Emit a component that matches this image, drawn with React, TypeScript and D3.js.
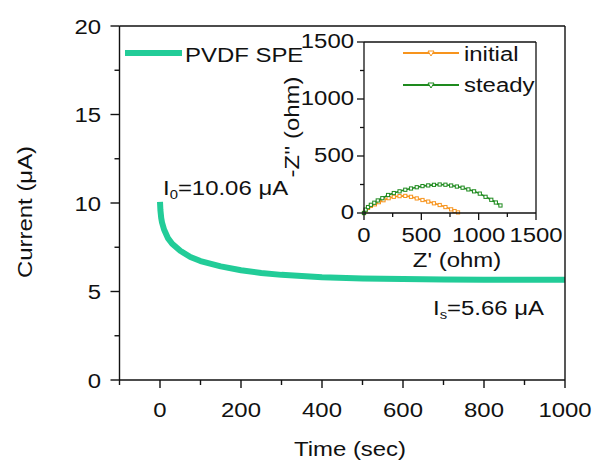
import React from "react";
import * as d3 from "d3";

// Main chart: current vs time
const timeSec = [0, 1, 3, 5, 10, 20, 30, 50, 75, 100, 150, 200, 250, 300, 350, 400, 500, 600, 700, 800, 900, 1000];
const currentUA = [10.06, 9.6, 9.15, 8.9, 8.5, 8.0, 7.7, 7.3, 6.95, 6.72, 6.42, 6.2, 6.05, 5.94, 5.87, 5.8, 5.74, 5.7, 5.68, 5.67, 5.66, 5.66];

// Inset: Nyquist plots
const initialZre = [0, 15, 35, 60, 95, 130, 170, 215, 260, 310, 360, 410, 460, 510, 560, 610, 660, 710, 760, 790, 820];
const initialZim = [0, 25, 45, 62, 76, 95, 112, 130, 142, 148, 150, 142, 128, 114, 100, 85, 70, 52, 32, 17, 5];
const steadyZre = [0, 15, 35, 60, 90, 120, 160, 210, 260, 310, 360, 410, 460, 510, 560, 610, 660, 710, 760, 810, 860, 910, 960, 1010, 1060, 1110, 1150, 1190];
const steadyZim = [0, 30, 52, 72, 90, 110, 130, 158, 175, 190, 204, 215, 226, 236, 242, 247, 250, 248, 241, 232, 222, 207, 190, 170, 142, 116, 92, 66];

const xTicksMain = [0, 200, 400, 600, 800, 1000];
const xMinorMain = [-100, 100, 300, 500, 700, 900];
const yTicksMain = [0, 5, 10, 15, 20];
const yMinorMain = [2.5, 7.5, 12.5, 17.5];
const insetTicks = [0, 500, 1000, 1500];
const insetMinor = [250, 750, 1250];

const GREEN_MAIN = "#22cc98";
const ORANGE = "#f7941d";
const GREEN_DARK = "#1e8a1e";
const FONT = "'Liberation Sans', Arial, sans-serif";
const SX = 1.14;

function T({ x, y, children, anchor = "start", size = 21, rotate = 0, fill = "#111" }: any) {
  return (
    <text
      transform={`translate(${x},${y}) rotate(${rotate}) scale(${SX},1)`}
      textAnchor={anchor}
      fontSize={size}
      fontFamily={FONT}
      fill={fill}
    >
      {children}
    </text>
  );
}

export default function App() {
  const x = d3.scaleLinear().domain([-100, 1000]).range([119.5, 565]);
  const y = d3.scaleLinear().domain([0, 20]).range([380, 26]);
  const ix = d3.scaleLinear().domain([0, 1500]).range([364, 536]);
  const iy = d3.scaleLinear().domain([0, 1500]).range([213, 42]);

  const mainData = timeSec.map((t, i) => [t, currentUA[i]] as [number, number]);
  const mainLine = d3.line<[number, number]>().x((d) => x(d[0])).y((d) => y(d[1]));

  const initData = initialZre.map((v, i) => [v, initialZim[i]] as [number, number]);
  const steadyData = steadyZre.map((v, i) => [v, steadyZim[i]] as [number, number]);
  const insetLine = d3.line<[number, number]>().x((d) => ix(d[0])).y((d) => iy(d[1]));

  const [x0, x1] = x.range();
  const [y0, y1] = y.range();
  const [ix0, ix1] = ix.range();
  const [iy0, iy1] = iy.range();

  const marker = (cx: number, cy: number, color: string, key: any) => (
    <rect key={key} x={cx - 1.6} y={cy - 1.6} width={3.2} height={3.2} fill="white" stroke={color} strokeWidth={1} />
  );

  return (
    <svg width={597} height={468} style={{ position: "absolute", left: 0, top: 0, background: "white" }}>
      <rect x={0} y={0} width={597} height={468} fill="white" />
      {/* main curve */}
      <path d={mainLine(mainData) || ""} fill="none" stroke={GREEN_MAIN} strokeWidth={6} strokeLinecap="butt" strokeLinejoin="round" />

      {/* main frame */}
      <g stroke="#111" strokeWidth={1.4} fill="none">
        <line x1={x0} y1={y0} x2={x1} y2={y0} />
        <line x1={x0} y1={y0} x2={x0} y2={y1} />
        <line x1={x0} y1={y1} x2={x1} y2={y1} />
        <line x1={x1} y1={y0} x2={x1} y2={y1} />
        {xTicksMain.map((t) => (
          <line key={"xt" + t} x1={x(t)} x2={x(t)} y1={y0} y2={y0 + 8} />
        ))}
        {xMinorMain.map((t) => (
          <line key={"xm" + t} x1={x(t)} x2={x(t)} y1={y0} y2={y0 + 5} />
        ))}
        {yTicksMain.map((t) => (
          <line key={"yt" + t} x1={x0 - 9} x2={x0} y1={y(t)} y2={y(t)} />
        ))}
        {yMinorMain.map((t) => (
          <line key={"ym" + t} x1={x0 - 5} x2={x0} y1={y(t)} y2={y(t)} />
        ))}
      </g>
      {xTicksMain.map((t) => (
        <T key={"xl" + t} x={x(t)} y={417} anchor="middle">{t}</T>
      ))}
      {yTicksMain.map((t) => (
        <T key={"yl" + t} x={101} y={y(t) + 7.5} anchor="end">{t}</T>
      ))}
      <T x={350} y={456} anchor="middle">Time (sec)</T>
      <T x={32} y={212} anchor="middle" rotate={-90}>Current (μA)</T>

      {/* main legend */}
      <line x1={125} x2={182} y1={53} y2={53} stroke={GREEN_MAIN} strokeWidth={6} />
      <T x={185} y={62}>PVDF SPE</T>

      {/* annotations */}
      <T x={163} y={195}>
        I<tspan fontSize={13} dy={4}>0</tspan>
        <tspan dy={-4}>=10.06 μA</tspan>
      </T>
      <T x={433} y={315}>
        I<tspan fontSize={13} dy={4}>s</tspan>
        <tspan dy={-4}>=5.66 μA</tspan>
      </T>

      {/* inset */}
      <path d={insetLine(initData) || ""} fill="none" stroke={ORANGE} strokeWidth={1.6} />
      {initData.map((d, i) => marker(ix(d[0]), iy(d[1]), ORANGE, "io" + i))}
      <path d={insetLine(steadyData) || ""} fill="none" stroke={GREEN_DARK} strokeWidth={1.6} />
      {steadyData.map((d, i) => marker(ix(d[0]), iy(d[1]), GREEN_DARK, "sd" + i))}

      <g stroke="#111" strokeWidth={1.3} fill="none">
        <line x1={ix0} y1={iy0} x2={ix1} y2={iy0} />
        <line x1={ix0} y1={iy0} x2={ix0} y2={iy1} />
        <line x1={ix0} y1={iy1} x2={ix1} y2={iy1} />
        <line x1={ix1} y1={iy0} x2={ix1} y2={iy1} />
        {insetTicks.map((t) => (
          <line key={"ixt" + t} x1={ix(t)} x2={ix(t)} y1={iy0} y2={iy0 + 7} />
        ))}
        {insetMinor.map((t) => (
          <line key={"ixm" + t} x1={ix(t)} x2={ix(t)} y1={iy0} y2={iy0 + 4} />
        ))}
        {insetTicks.map((t) => (
          <line key={"iyt" + t} x1={ix0 - 7} x2={ix0} y1={iy(t)} y2={iy(t)} />
        ))}
        {insetMinor.map((t) => (
          <line key={"iym" + t} x1={ix0 - 4} x2={ix0} y1={iy(t)} y2={iy(t)} />
        ))}
      </g>
      {insetTicks.map((t) => (
        <T key={"ixl" + t} x={ix(t)} y={242} anchor="middle">{t}</T>
      ))}
      {insetTicks.map((t) => (
        <T key={"iyl" + t} x={354} y={iy(t) + 6} anchor="end">{t}</T>
      ))}
      <T x={457} y={267} anchor="middle">Z' (ohm)</T>
      <T x={299} y={127} anchor="middle" rotate={-90}>-Z'' (ohm)</T>

      {/* inset legend */}
      <line x1={403} x2={459} y1={53} y2={53} stroke={ORANGE} strokeWidth={2} />
      <path d="M428,51 L434,51 L431,56 Z" fill="white" stroke={ORANGE} strokeWidth={1} />
      <T x={464} y={61}>initial</T>
      <line x1={403} x2={459} y1={85} y2={85} stroke={GREEN_DARK} strokeWidth={2} />
      <path d="M428,83 L434,83 L431,88 Z" fill="white" stroke={GREEN_DARK} strokeWidth={1} />
      <T x={464} y={92}>steady</T>
    </svg>
  );
}
